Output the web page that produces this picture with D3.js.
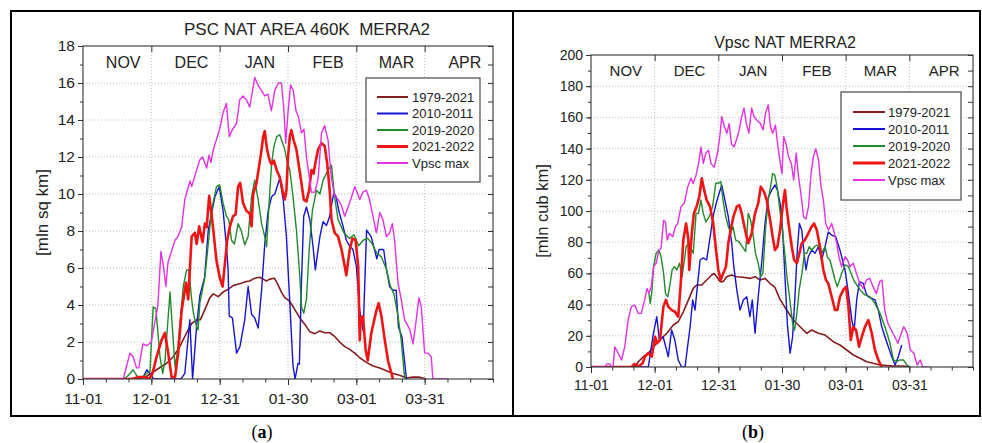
<!DOCTYPE html>
<html><head><meta charset="utf-8">
<script src="https://cdn.jsdelivr.net/npm/d3@7"></script>
<style>
body{margin:0;background:#fff;}
svg{display:block;font-family:Arial,"Liberation Sans",sans-serif;}
</style></head><body>
<svg id="c" width="982" height="443"></svg>
<script>
// ---------- DATA (day offset from 11-01, value) ----------
const dateTickDays = [0, 30, 60, 90, 120, 150];
const dateTickLabels = ["11-01", "12-01", "12-31", "01-30", "03-01", "03-31"];
const monthLabels = ["NOV", "DEC", "JAN", "FEB", "MAR", "APR"];
const seriesNames = ["1979-2021", "2010-2011", "2019-2020", "2021-2022", "Vpsc max"];
const areaTicks = [0, 2, 4, 6, 8, 10, 12, 14, 16, 18];
const volTicks = [0, 20, 40, 60, 80, 100, 120, 140, 160, 180, 200];

// Panel (a): PSC NAT area, mln sq km
const areaClim = [[0,0],[19,0],[24,0.05],[28,0.15],[32.3,0.5],[36.7,0.85],[39.6,1.2],[42.5,1.75],[45.5,2.5],[47.7,3.0],[49.9,3.2],[51.5,3.2],[53.5,3.75],[55.7,4.4],[57.2,4.6],[59.4,4.45],[61.5,4.7],[63.7,4.85],[65.9,5.05],[68.9,5.15],[71,5.25],[73.2,5.3],[75.4,5.45],[77.6,5.5],[79.1,5.4],[80.5,5.3],[82,5.4],[84,5.45],[85.2,5.2],[87.1,4.7],[88.6,4.4],[90.8,4.2],[93,3.75],[95.2,3.3],[97.4,2.95],[99.6,2.55],[101.8,2.45],[104,2.6],[106.1,2.5],[108.3,2.5],[110.5,2.3],[112.7,2.0],[114.9,1.75],[117.1,1.6],[119.3,1.4],[121.5,1.15],[124.4,0.9],[127.3,0.7],[130.3,0.6],[133.2,0.45],[136.1,0.3],[139,0.2],[142,0.05],[144.9,0.1],[147.8,0.1],[150.7,0]];
const areaY2011 = [[0,0],[26,0],[28,0.5],[30,0.2],[31,0],[43,0],[44.7,0.3],[46.9,3.2],[48.1,0],[49.9,2.9],[51.3,4.5],[53.4,5.5],[55,8.05],[57.9,9.85],[59.8,10.4],[61.5,9.1],[63,7.15],[63.7,5.9],[64.2,3.4],[65.6,3.3],[67.4,1.4],[68.9,1.75],[71,3.2],[72.5,5.0],[74,3.5],[75.4,3.3],[76.9,2.75],[78.4,4.8],[79.8,7.3],[81.3,9.1],[82.8,9.85],[84.2,10.0],[86.4,10.85],[87.9,9.7],[89.3,7.7],[90.8,4.1],[92.2,0.7],[93.1,0],[94.4,0.85],[95,0.8],[95.9,5.2],[96.9,8.8],[98.1,9.3],[99.6,8.6],[101,7.15],[102,5.9],[104,7.7],[105.4,8.5],[106.9,8.3],[108.3,8.8],[110,10.0],[111,9.9],[112.5,9.0],[114.2,8.25],[115.6,7.5],[117,7.2],[118.5,7.0],[120,6.1],[121.5,3.7],[123,2.6],[124.5,8.05],[126.5,7.7],[129,6.5],[130,7.0],[132,7.0],[133,6.1],[134.6,5.0],[136,4.8],[137.5,4.8],[138.5,2.8],[140,2.3],[141.4,0.7],[142,0]];
const areaY2020 = [[0,0],[18,0],[20,0.2],[22,0.5],[24,0.1],[26,0.1],[28,0.3],[29.4,0.4],[30.8,3.9],[32,3.8],[33.8,1.2],[35,0.3],[36,1.0],[38.2,4.7],[39.6,2.1],[40.4,0.65],[41.5,1.5],[44,5.0],[45.5,5.9],[46.5,5.9],[47.7,4.3],[48.5,3.55],[49.9,2.8],[50.5,2.65],[51.3,4.1],[53.5,5.5],[55,7.3],[56.4,9.1],[58.6,10.4],[60,10.5],[61.5,9.5],[63,8.8],[64,8.6],[65.2,7.5],[66.5,7.3],[68.1,8.4],[69.5,8.0],[71,7.25],[72.5,7.7],[74,9.85],[75.4,10.75],[76.9,9.7],[78.4,8.4],[79.8,7.7],[80.6,7.15],[81.7,9.5],[82.8,11.65],[83.8,12.55],[85,13.1],[86.4,13.2],[87.5,12.8],[88.6,12.4],[89.5,11.8],[90.8,11.3],[92.2,9.85],[93.7,8.05],[95.2,5.5],[95.9,3.9],[96.9,3.55],[98.1,4.3],[99.3,7.0],[100.7,9.1],[102.5,10.2],[104,10.0],[105.4,10.75],[107.6,11.3],[109.1,11.55],[110.5,9.8],[112,8.6],[113.5,8.2],[114.5,7.9],[117,7.6],[119,7.8],[121,7.2],[123,7.5],[125,7.6],[127,7.3],[129,6.8],[131,6.6],[133,6.0],[135,5.0],[136.5,4.6],[138.3,3.4],[139.7,2.1],[141,0.3],[141.5,0]];
const areaY2022 = [[0,0],[22,0],[24,0.1],[27,0.1],[29,0],[30.5,0.3],[32.3,1.2],[34.5,2.1],[36,2.5],[37.4,1.4],[38.9,0.1],[40.4,0.1],[41.8,1.4],[43.3,3.7],[44.7,4.8],[45.2,5.2],[46.2,4.3],[46.9,5.9],[47.7,7.7],[49.1,7.9],[49.9,7.3],[51,8.25],[52.5,7.4],[53.5,8.4],[54.3,8.2],[55.4,9.9],[56.4,8.95],[57.5,7.7],[58.6,6.4],[60,5.5],[61.3,5.0],[62.3,6.25],[63.3,7.5],[64.5,8.25],[65.9,8.8],[67,8.9],[68.1,10.4],[69,10.6],[70.3,9.5],[71.7,9.1],[73.2,8.95],[74,8.25],[74.7,10.0],[76.2,10.6],[77.3,11.5],[78.4,12.4],[79.1,13.1],[79.8,13.4],[80.8,12.4],[82,11.8],[82.8,11.6],[83.8,11.8],[85,11.3],[86.4,10.9],[87.6,10.2],[88.6,9.7],[89.3,10.2],[90,12.0],[90.8,13.1],[91.5,13.45],[92.5,12.9],[93.7,12.4],[94.8,11.5],[95.9,10.6],[96.9,9.7],[98.1,9.6],[99.3,10.2],[100.3,11.3],[101.2,11.1],[102.2,11.8],[103.2,12.4],[104.7,12.75],[106.1,12.6],[107.2,11.65],[108.3,10.2],[109.1,8.6],[110.5,7.9],[112,7.7],[113.5,7.0],[114.9,6.1],[115.6,5.6],[117.1,7.0],[118.3,7.6],[119.7,7.5],[120.8,6.1],[121.5,2.1],[121.9,3.2],[122.9,3.4],[124.1,1.55],[125,1.0],[126.6,2.5],[128.8,3.7],[129.8,4.1],[131,3.4],[132.5,2.1],[133.9,1.0],[135.4,0.3],[136.1,0]];
const areaVmax = [[0,0],[17.7,0],[20.6,1.4],[22,1.2],[23.5,0.6],[24.5,0.6],[26.3,1.9],[28,1.8],[30,2.0],[32.9,4.0],[34.2,6.9],[35.2,6.2],[36.4,5.0],[37.3,6.3],[40.4,7.5],[41.7,7.7],[43.3,8.2],[44.7,9.7],[47,10.7],[47.7,10.4],[49.9,11.3],[51.3,11.85],[52.5,12.0],[54.3,11.4],[55.3,12.1],[56.2,11.7],[57.2,12.4],[60,13.5],[61.5,14.4],[63,14.9],[64.2,13.1],[65.7,13.5],[67.4,13.8],[68.8,15.1],[70.3,15.3],[71.7,15.1],[73.2,14.7],[74.3,15.5],[75.4,16.3],[76.8,15.9],[78.3,15.6],[79.8,15.3],[81.2,15.4],[82.7,14.5],[84.2,15.6],[85.7,16.0],[87.1,16.0],[88.1,14.7],[89,12.75],[90,14.4],[91.1,15.9],[92.3,15.6],[93.5,14.5],[94.5,14.2],[95.9,13.3],[97,13.5],[98.1,12.0],[99.3,10.95],[100.3,10.1],[101.8,10.1],[103.2,10.8],[104.7,13.3],[106.1,13.7],[107.6,12.9],[109.1,10.8],[110.5,9.9],[112,9.7],[113.4,9.4],[114.9,8.8],[116.4,9.3],[117.8,9.8],[119.3,10.4],[121.5,9.7],[122.9,10.1],[124.4,10.2],[125.8,9.7],[127.3,8.8],[128.8,7.9],[130.3,9.0],[131.7,8.6],[133.2,7.7],[134.6,7.9],[135.8,8.4],[136.8,7.5],[138.3,5.2],[139.7,4.3],[141.2,3.2],[143.4,2.7],[144.9,1.9],[146.3,3.2],[147.5,4.4],[148.5,3.9],[150,1.4],[151.4,1.4],[152.9,1.2],[153.6,0],[160,0]];

// Panel (b): Vpsc NAT, mln cub km
const volClim = [[0,0],[20.7,0],[22.3,3.4],[24.6,6.6],[27,8.8],[29.4,13],[32.5,17.3],[35.7,21.6],[38.8,26.9],[41.1,29],[43.5,35.4],[45.9,43],[48.2,50.4],[49.8,52.6],[52.2,52.6],[54.5,55.8],[56.9,59],[58,60],[59.2,57.9],[60.8,54.7],[62.3,54.7],[63.9,57.9],[66.2,59],[68.6,57.9],[71.7,57.5],[74.9,56.8],[77.3,57.9],[79.6,55.8],[82,56.8],[84.4,53.5],[86.7,51],[89,43.5],[92.2,36.5],[95.3,30.1],[98.5,25.8],[101.7,21.6],[104,23.7],[107.1,21.6],[110.3,20.5],[114.2,16.2],[117.3,14.1],[120.5,10.9],[123.6,7.7],[126.8,5.6],[129.9,3.4],[133,2.4],[136.2,1.3],[139.4,0.9],[142.5,0.6],[147.2,0.6],[150.4,0]];
const volY2011 = [[0,0],[27,0],[29.4,21.6],[31,32.2],[32.2,17.3],[34,19.4],[36.4,6.6],[38,23.7],[39.5,17.3],[41.1,4.5],[42.7,0],[44.3,0],[46.7,25.8],[47.9,43],[49,36.5],[50.6,57.9],[51.4,68.6],[52.9,69.9],[54.5,68.6],[56.1,83],[57.6,97],[59.2,106],[61.6,116.7],[63.1,107],[64.7,96.4],[66.3,79.3],[67.3,64.3],[68.7,49.4],[70.2,36.5],[71.8,43],[73.4,45],[74.9,32.2],[76,43],[77.3,21.6],[78.8,45],[80.4,66.5],[82,92],[83.6,109],[85.2,113.5],[86.7,116.7],[87.8,113.5],[89.1,105],[90.3,87.8],[91.4,57.9],[92.5,28],[93.8,8.8],[95,19.4],[96.1,45],[97.2,75],[98.2,92],[99.3,87.8],[100.4,72.9],[101.3,62.2],[102.4,70.7],[104,75],[105.6,72.9],[107.1,77.1],[108.7,68.6],[110.3,77.1],[111.8,86.5],[113.4,84.6],[115.3,83.5],[117.3,75],[119.7,62.2],[121.3,47.2],[122.9,30.1],[124,23.7],[125.2,43],[126.5,54.7],[128.3,53.6],[129.6,47.2],[130.7,45],[132.3,44],[133.8,43],[135.4,36.5],[137,25.8],[138.5,19.4],[140.1,13],[141.7,6.6],[143.3,1.3],[144.8,6.6],[146.4,14.1]];
const volY2020 = [[27.3,47.2],[27.9,40.8],[28.6,47.2],[29.5,64.3],[30.7,72.9],[32,75],[33,70.7],[34.2,60],[35.1,47.2],[36.2,45],[37.3,53.6],[38.2,62.2],[39.3,64.3],[40.4,62.2],[41.7,66.5],[42.9,57.9],[44,68.6],[44.8,77.1],[46,79.3],[47.1,76],[48.2,72.9],[49.5,98.5],[50.6,98.5],[51.8,107],[52.9,98.5],[54.1,93],[55.7,96.4],[57.3,102.8],[58.8,118],[60,117.7],[61.2,118.8],[62.2,107],[63.5,96.4],[64.7,90],[65.8,85.7],[66.9,90],[68.2,81.4],[69.7,80.3],[71.3,77.1],[72.9,74],[74.1,98.5],[75.2,94.2],[76.3,85.7],[77.5,72.9],[78.8,66.5],[79.9,57.9],[81,60],[82.2,87.8],[83.5,107],[84.6,115.6],[85.6,124],[86.6,123],[87.7,115.6],[88.8,102.8],[90,90],[91.3,72.9],[92.5,55.8],[93.9,40.8],[95,28],[95.9,23.7],[97,34.4],[98.1,49.4],[99.4,60],[100.6,72.9],[101.7,72.9],[102.8,77.1],[104,75],[105.3,77.1],[106.4,78.2],[107.5,77],[108.7,72.9],[110.3,77.1],[111.5,70],[112.6,68.6],[115,55.8],[116.1,51.5],[118.1,60],[119.7,65.4],[121.3,64.3],[124,55],[126.8,49.4],[129.1,46.2],[131.5,45],[133.8,40.8],[136.2,34.4],[138.5,25.8],[140.9,15.2],[142.5,4.5],[144,3.4],[145.6,4.5],[147.2,4.5],[148.8,1.3],[150.4,0]];
const volY2022 = [[0,0],[19,0],[20.5,2],[21.5,0.5],[23,1],[24.3,2.4],[25.4,6.6],[27,8.8],[28.6,6.6],[30.2,19.4],[31,15.2],[32.5,17.3],[34.1,38.7],[35.3,43],[36.4,38.7],[38,36.5],[39.6,35.4],[41.1,32.2],[42.3,53.6],[43.5,81.4],[44.8,92],[45.9,81.4],[46.3,62.2],[47.5,85.7],[48.5,98.5],[49.8,103],[51,109],[52.2,121],[53.3,113.5],[54.5,107],[56.1,102.8],[57.6,92],[58.9,75],[60,62.2],[61.1,55.8],[62.3,60],[63.6,64.3],[64.7,79.3],[65.8,87.8],[67.1,96.4],[68.7,102.8],[69.9,103.8],[71,98.5],[72.6,87.8],[74.1,79.3],[75.7,85.7],[77.3,98.5],[78.8,105],[80,115.6],[81.5,112.4],[82.8,107],[84.4,94.2],[85.6,83.5],[86.7,75],[87.8,77.1],[89.1,87.8],[90.3,102.8],[91.4,113.5],[92.1,102.8],[93.5,87.8],[94.6,77.1],[95.7,68.6],[97,66.5],[98.2,72.9],[99.3,79.3],[100.8,81.4],[102.4,85.7],[104,90],[105.1,92],[106.4,87.8],[107.9,77.1],[109.5,62.2],[110.7,55.8],[111.8,53.6],[113.4,45],[115,36.5],[116.1,36.5],[117.3,45],[118.9,49.4],[120.2,51.5],[121.3,38.7],[122.4,17.3],[123.6,25.8],[124.9,23.7],[126.3,13],[127.6,19.4],[129.1,25.8],[130.7,30.1],[132.3,21.6],[133.8,10.9],[135.4,4.5],[137,0]];
const volVmax = [[0,0],[6.5,0],[7.5,2],[8.8,2],[9.6,0],[10.4,0],[11.2,13],[12.8,9],[14.4,4.5],[15.9,13],[17.5,30],[19,38.7],[20.6,39.7],[22.2,34.4],[23.7,34.4],[25.3,43],[26.4,50.4],[27.3,47.2],[28.4,51.5],[29.5,64.3],[30.7,66.5],[32,75],[33,76],[34.2,94],[35.1,93],[35.9,81.4],[37,85.7],[38.5,83.5],[39.8,90],[40.9,92],[42.4,102.8],[44,105],[45.6,115.6],[47.1,121],[48.2,117.7],[49.5,123],[50.7,130.5],[51.8,141],[52.9,130.5],[54.1,137],[55.4,139],[56.5,130.5],[58,128],[59.6,137],[60.7,147.6],[61.6,160.5],[62.9,154],[64,149.8],[65.1,156],[66.2,143],[67.4,141],[68.5,145.5],[69.7,151],[71,160.5],[72.1,166],[73.2,156],[74.4,150],[75.7,166],[76.8,160.5],[78.3,158],[79.9,156],[81.1,152],[82.2,162.6],[83.5,168],[84.6,154],[85.6,149.8],[86.9,155],[88.1,141],[89.2,130.5],[90,124],[90.8,147.6],[91.9,143],[93.1,134.8],[94.4,130.5],[95.5,120],[96.7,137],[97.8,122],[99.1,109],[100.2,96],[101.3,95],[102.5,102.8],[103.7,124],[104.8,134.8],[105.9,140],[107.2,132.7],[108.4,115.6],[109.5,107],[110.6,92],[111.9,87.8],[113.4,92],[114.7,85.7],[115.8,79.3],[116.8,70.7],[118.1,64.3],[119.7,70.7],[120.9,68.6],[122,64.3],[123.6,66.5],[125.1,60],[126.7,53.6],[128.2,50.4],[129.8,55.8],[131.4,56.8],[132.9,51.5],[134.5,47.2],[136,54.7],[137.1,55.8],[138.4,36.5],[139.9,28],[141.5,23.7],[143.1,19.4],[144.6,15.2],[146.2,21.6],[147.4,25.9],[149,21.6],[150.5,10.9],[152.1,8.8],[153.7,1.3],[155.2,4.5],[156.3,0],[159.4,0]];

// ---------- STYLE / LAYOUT ----------
const seriesColors = ["#861c1c", "#1414d2", "#24892c", "#f01414", "#e232e2"];
const seriesWidths = [1.6, 1.4, 1.4, 2.6, 1.4];
const legendWidths = [2, 2, 2, 3, 2];

const svg = d3.select("#c");

function panel(cfg) {
  const x = d3.scaleLinear().domain([0, 180]).range([cfg.x0, cfg.x1]);
  const y = d3.scaleLinear().domain([0, cfg.ymax]).range([cfg.y1, cfg.y0]);
  const g = svg.append("g");
  const minorX = d3.range(0, 181, 10);
  const minorY = d3.range(0, cfg.ymax + 1e-9, cfg.minorStep);

  // grid
  g.append("g").selectAll("line").data(cfg.yTicks.slice(1, -1)).join("line")
    .attr("x1", cfg.x0).attr("x2", cfg.x1).attr("y1", d => y(d)).attr("y2", d => y(d))
    .attr("stroke", "#b4b4b4").attr("stroke-width", 0.9).attr("stroke-dasharray", "1,2");
  g.append("g").selectAll("line").data(dateTickDays.slice(1)).join("line")
    .attr("x1", d => x(d)).attr("x2", d => x(d)).attr("y1", cfg.y0).attr("y2", cfg.y1)
    .attr("stroke", "#b4b4b4").attr("stroke-width", 0.9).attr("stroke-dasharray", "1,2");

  // clip
  const cid = "clip" + cfg.id;
  svg.append("clipPath").attr("id", cid).append("rect")
    .attr("x", cfg.x0).attr("y", cfg.y0 - 2).attr("width", cfg.x1 - cfg.x0).attr("height", cfg.y1 - cfg.y0 + 2);

  const line = d3.line().x(d => x(d[0])).y(d => y(d[1]));
  const lg = g.append("g").attr("clip-path", `url(#${cid})`);
  cfg.series.forEach((s, i) => {
    lg.append("path").datum(s).attr("d", line).attr("fill", "none")
      .attr("stroke", seriesColors[i]).attr("stroke-width", seriesWidths[i])
      .attr("stroke-linejoin", "round");
  });

  // axes
  const styleAxis = sel => { sel.select(".domain").remove(); sel.selectAll("line").attr("stroke", "#333"); };
  g.append("g").attr("transform", `translate(0,${cfg.y1})`)
    .call(d3.axisBottom(x).tickValues(minorX).tickFormat("").tickSize(3.5)).call(styleAxis);
  const xb = g.append("g").attr("transform", `translate(0,${cfg.y1})`)
    .call(d3.axisBottom(x).tickValues(dateTickDays).tickFormat((d, i) => dateTickLabels[i]).tickSize(6).tickPadding(cfg.xPad)).call(styleAxis);
  xb.selectAll("text").attr("font-size", cfg.tickFont).attr("fill", "#222").attr("font-family", "Arial,'Liberation Sans',sans-serif");

  g.append("g").attr("transform", `translate(0,${cfg.y0})`)
    .call(d3.axisTop(x).tickValues(dateTickDays.slice(1)).tickFormat("").tickSize(-6)).call(styleAxis);

  g.append("g").attr("transform", `translate(${cfg.x0},0)`)
    .call(d3.axisLeft(y).tickValues(minorY).tickFormat("").tickSize(3)).call(styleAxis);
  const ya = g.append("g").attr("transform", `translate(${cfg.x0},0)`)
    .call(d3.axisLeft(y).tickValues(cfg.yTicks).tickFormat(d3.format("d")).tickSize(5).tickPadding(3)).call(styleAxis);
  ya.selectAll("text").attr("font-size", cfg.tickFont).attr("fill", "#222").attr("font-family", "Arial,'Liberation Sans',sans-serif");

  g.append("g").attr("transform", `translate(${cfg.x1},0)`)
    .call(d3.axisRight(y).tickValues(minorY).tickFormat("").tickSize(-5)).call(styleAxis);

  // frame
  g.append("rect").attr("x", cfg.x0).attr("y", cfg.y0).attr("width", cfg.x1 - cfg.x0).attr("height", cfg.y1 - cfg.y0)
    .attr("fill", "none").attr("stroke", "#333").attr("stroke-width", 1.1);

  // month labels
  g.append("g").selectAll("text").data(monthLabels).join("text")
    .attr("x", (d, i) => x(i * 30 + 15) + cfg.monthDx).attr("y", cfg.monthY)
    .attr("text-anchor", "middle").attr("font-size", cfg.monthFont).attr("fill", "#222").text(d => d);

  // title
  g.append("text").attr("x", cfg.titleX).attr("y", cfg.titleY).attr("text-anchor", "middle")
    .attr("font-size", cfg.titleFont).attr("fill", "#222").style("white-space", "pre").text(cfg.title);

  // y label
  g.append("text").attr("transform", `translate(${cfg.ylabelX},${(cfg.y0 + cfg.y1) / 2}) rotate(-90)`)
    .attr("text-anchor", "middle").attr("dy", "0.35em").attr("font-size", cfg.ylabelFont).attr("fill", "#222").text(cfg.ylabel);

  // legend
  const L = cfg.legend;
  g.append("rect").attr("x", L.x).attr("y", L.y).attr("width", L.w).attr("height", L.h)
    .attr("fill", "#fff").attr("stroke", "#555").attr("stroke-width", 1.3);
  const items = g.append("g").selectAll("g").data(seriesNames).join("g")
    .attr("transform", (d, i) => `translate(0,${L.row0 + i * L.dy})`);
  items.append("line").attr("x1", L.lx0).attr("x2", L.lx1)
    .attr("stroke", (d, i) => seriesColors[i]).attr("stroke-width", (d, i) => legendWidths[i]);
  items.append("text").attr("x", L.tx).attr("dy", "0.36em").attr("font-size", 13).attr("fill", "#222").text(d => d);
}

panel({
  id: "a", x0: 83, x1: 493, y0: 46, y1: 379, ymax: 18, minorStep: 1, yTicks: areaTicks,
  series: [areaClim, areaY2011, areaY2020, areaY2022, areaVmax],
  tickFont: 15.5, xPad: 8, monthFont: 16, monthY: 68, monthDx: 6,
  title: "PSC NAT AREA 460K  MERRA2", titleX: 307, titleY: 34.5, titleFont: 17,
  ylabel: "[mln sq km]", ylabelX: 42, ylabelFont: 17,
  legend: { x: 366, y: 78, w: 114, h: 104, lx0: 377, lx1: 408, tx: 412, row0: 97, dy: 16.5 }
});
panel({
  id: "b", x0: 591, x1: 973, y0: 55, y1: 367, ymax: 200, minorStep: 10, yTicks: volTicks,
  series: [volClim, volY2011, volY2020, volY2022, volVmax],
  tickFont: 14, xPad: 7, monthFont: 15, monthY: 76, monthDx: 3,
  title: "Vpsc NAT MERRA2", titleX: 785, titleY: 47.5, titleFont: 16,
  ylabel: "[mln cub km]", ylabelX: 542, ylabelFont: 16.5,
  legend: { x: 841, y: 92, w: 120, h: 108, lx0: 853, lx1: 885, tx: 888, row0: 112, dy: 17 }
});

// outer frame
svg.append("rect").attr("x", 11).attr("y", 11).attr("width", 969).attr("height", 405)
  .attr("fill", "none").attr("stroke", "#000").attr("stroke-width", 2);
svg.append("line").attr("x1", 513).attr("x2", 513).attr("y1", 11).attr("y2", 416)
  .attr("stroke", "#000").attr("stroke-width", 2);

// captions
const caps = [["a", 262], ["b", 753]];
caps.forEach(([c, cx]) => {
  const t = svg.append("text").attr("x", cx).attr("y", 438).attr("text-anchor", "middle")
    .attr("font-family", "'Liberation Serif','Times New Roman',serif").attr("font-size", 18).attr("fill", "#000");
  t.append("tspan").text("(");
  t.append("tspan").attr("font-weight", "bold").text(c);
  t.append("tspan").text(")");
});
</script>
</body></html>
